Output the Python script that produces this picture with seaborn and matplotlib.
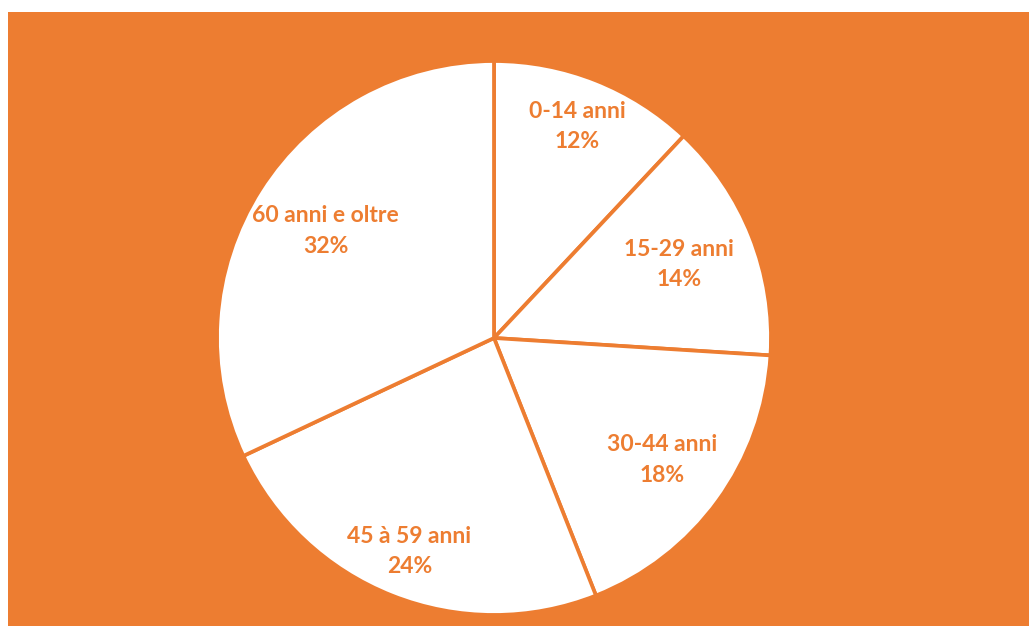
import numpy as np
import matplotlib
matplotlib.use("Agg")
import matplotlib.pyplot as plt
import seaborn as sns

labels = ["0-14 anni", "15-29 anni", "30-44 anni", "45 à 59 anni", "60 anni e oltre"]
shares = [12, 14, 18, 24, 32]

ORANGE = "#ED7D31"

sns.set_theme(style="white")
plt.rcParams["font.family"] = ["Lato", "DejaVu Sans"]

W, H = 1029, 626
fig = plt.figure(figsize=(W / 100, H / 100), dpi=100)
fig.patch.set_facecolor("white")
# orange panel, leaving a thin white margin at left and top
ax = fig.add_axes([8 / W, 0, (W - 8) / W, (H - 12) / H])

cx, cy, r = 494 - 8, 626 - 338, 277
wedges, _ = ax.pie(
    shares,
    colors=["white"] * len(shares),
    startangle=90,
    counterclock=False,
    center=(cx, cy),
    radius=r,
    frame=True,
    wedgeprops=dict(edgecolor=ORANGE, linewidth=2.7),
)
ax.set_xlim(0, W - 8)
ax.set_ylim(0, H - 12)
ax.set_aspect("equal")
ax.set_facecolor(ORANGE)
for s in ax.spines.values():
    s.set_visible(False)
ax.set_xticks([])
ax.set_yticks([])

label_r = [0.82, 0.72, 0.75, 0.83, 0.72]
for w, lab, pct, k in zip(wedges, labels, shares, label_r):
    ang = np.deg2rad((w.theta1 + w.theta2) / 2)
    ax.text(cx + k * r * np.cos(ang), cy + k * r * np.sin(ang), f"{lab}\n{pct}%",
            ha="center", va="center", color=ORANGE, fontsize=16.5,
            fontweight="bold", linespacing=1.55)

fig.savefig("out.png", dpi=100, facecolor=fig.get_facecolor())
